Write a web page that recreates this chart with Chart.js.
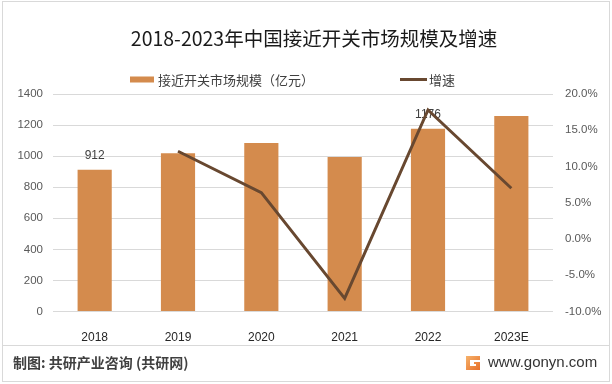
<!DOCTYPE html>
<html>
<head>
<meta charset="utf-8">
<script src="https://cdn.jsdelivr.net/npm/chart.js@4"></script>
<style>
html,body{margin:0;padding:0;background:#fff;}
#wrap{width:612px;height:384px;position:relative;}
</style>
</head>
<body>
<div id="wrap"><canvas id="c"></canvas></div>
<script>
const categories = ['2018', '2019', '2020', '2021', '2022', '2023E'];
const marketSize = [912, 1019, 1085, 995, 1176, 1259];
const growthRate = [null, 12.1, 6.4, -8.2, 17.8, 7.0];
const barLabels = ['912', null, null, null, '1176', null];
const leftTicks = [0, 200, 400, 600, 800, 1000, 1200, 1400];
const rightTicks = [-10, -5, 0, 5, 10, 15, 20];
const titleText = '2018-2023年中国接近开关市场规模及增速';
const seriesNames = ['接近开关市场规模（亿元）', '增速'];
const footerLeft = '制图: 共研产业咨询 (共研网)';
const footerRight = 'www.gonyn.com';

const BAR_COLOR = '#D48B4D';
const LINE_COLOR = '#684830';
const CJK = '"Noto Sans CJK SC", "Noto Sans", sans-serif';
const LAT = '"Liberation Sans", Arial, sans-serif';

const decor = {
  id: 'decor',
  afterDatasetDraw(chart, args) {
    if (args.index !== 0) return;
    const ctx = chart.ctx;
    const meta = chart.getDatasetMeta(0);
    ctx.save();
    ctx.font = '12px ' + LAT;
    ctx.fillStyle = '#404040';
    ctx.textAlign = 'center';
    ctx.textBaseline = 'middle';
    meta.data.forEach((bar, i) => {
      if (barLabels[i]) ctx.fillText(barLabels[i], bar.x, bar.y - 14);
    });
    ctx.restore();
  },
  afterDraw(chart) {
    const ctx = chart.ctx;
    ctx.save();
    // outer border
    ctx.strokeStyle = '#d9d9d9';
    ctx.lineWidth = 1;
    ctx.strokeRect(2.5, 1.5, 607, 380);
    // title
    ctx.font = '19.5px ' + CJK;
    ctx.fillStyle = '#1a1a1a';
    ctx.textAlign = 'center';
    ctx.textBaseline = 'middle';
    ctx.fillText(titleText, 314, 39);
    // legend
    ctx.textAlign = 'left';
    ctx.fillStyle = BAR_COLOR;
    ctx.fillRect(130, 76.5, 24, 6);
    ctx.font = '13px ' + CJK;
    ctx.fillStyle = '#404040';
    ctx.fillText(seriesNames[0], 158, 80);
    ctx.strokeStyle = LINE_COLOR;
    ctx.lineWidth = 3;
    ctx.beginPath();
    ctx.moveTo(400, 79.5);
    ctx.lineTo(427, 79.5);
    ctx.stroke();
    ctx.fillText(seriesNames[1], 429, 80);
    // footer separator
    ctx.strokeStyle = '#d9d9d9';
    ctx.lineWidth = 1;
    ctx.beginPath();
    ctx.moveTo(3, 345.5);
    ctx.lineTo(609, 345.5);
    ctx.stroke();
    // footer texts
    ctx.font = 'bold 14px ' + CJK;
    ctx.fillStyle = '#404040';
    ctx.fillText(footerLeft, 13, 363);
    // logo
    const g = ctx.createLinearGradient(466, 356, 480, 370);
    g.addColorStop(0, '#F6B26B');
    g.addColorStop(1, '#E8702A');
    ctx.fillStyle = g;
    ctx.beginPath();
    ctx.moveTo(466, 356); ctx.lineTo(480, 356); ctx.lineTo(480, 360); ctx.lineTo(470, 360);
    ctx.lineTo(470, 366); ctx.lineTo(476, 366); ctx.lineTo(476, 364); ctx.lineTo(474, 364);
    ctx.lineTo(474, 362); ctx.lineTo(480, 362); ctx.lineTo(480, 370); ctx.lineTo(466, 370);
    ctx.closePath();
    ctx.fill();
    ctx.font = '15px ' + LAT;
    ctx.fillStyle = '#333333';
    ctx.fillText(footerRight, 488, 363);
    ctx.restore();
  }
};

new Chart(document.getElementById('c'), {
  data: {
    labels: categories,
    datasets: [
      {
        type: 'bar',
        label: seriesNames[0],
        data: marketSize,
        backgroundColor: BAR_COLOR,
        yAxisID: 'y',
        barPercentage: 0.41,
        categoryPercentage: 1,
        order: 1
      },
      {
        type: 'line',
        label: seriesNames[1],
        data: growthRate,
        borderColor: LINE_COLOR,
        borderWidth: 3,
        pointRadius: 0,
        tension: 0,
        spanGaps: false,
        yAxisID: 'y1',
        order: 0
      }
    ]
  },
  options: {
    responsive: true,
    maintainAspectRatio: false,
    animation: false,
    layout: { padding: { left: 0, right: 0, top: 94, bottom: 0 } },
    plugins: {
      legend: { display: false },
      tooltip: { enabled: false },
      title: { display: false }
    },
    scales: {
      x: {
        grid: { display: false },
        border: { display: false },
        ticks: { color: '#262626', font: { family: LAT, size: 12 }, padding: 11 },
        afterFit(s) { s.height = 72.5; }
      },
      y: {
        position: 'left',
        min: 0, max: 1400,
        afterBuildTicks(s) { s.ticks = leftTicks.map(v => ({ value: v })); },
        grid: { color: '#d9d9d9', lineWidth: 1, drawTicks: false },
        border: { display: false },
        ticks: {
          color: '#595959', font: { family: LAT, size: 11.5 }, padding: 10,
          callback: v => String(v)
        },
        afterFit(s) { s.width = 53; }
      },
      y1: {
        position: 'right',
        min: -10, max: 20,
        afterBuildTicks(s) { s.ticks = rightTicks.map(v => ({ value: v })); },
        grid: { display: false, drawTicks: false },
        border: { display: false },
        ticks: {
          color: '#595959', font: { family: LAT, size: 11.5 }, padding: 12,
          callback: v => v.toFixed(1) + '%'
        },
        afterFit(s) { s.width = 59; }
      }
    }
  },
  plugins: [decor]
});
</script>
</body>
</html>
